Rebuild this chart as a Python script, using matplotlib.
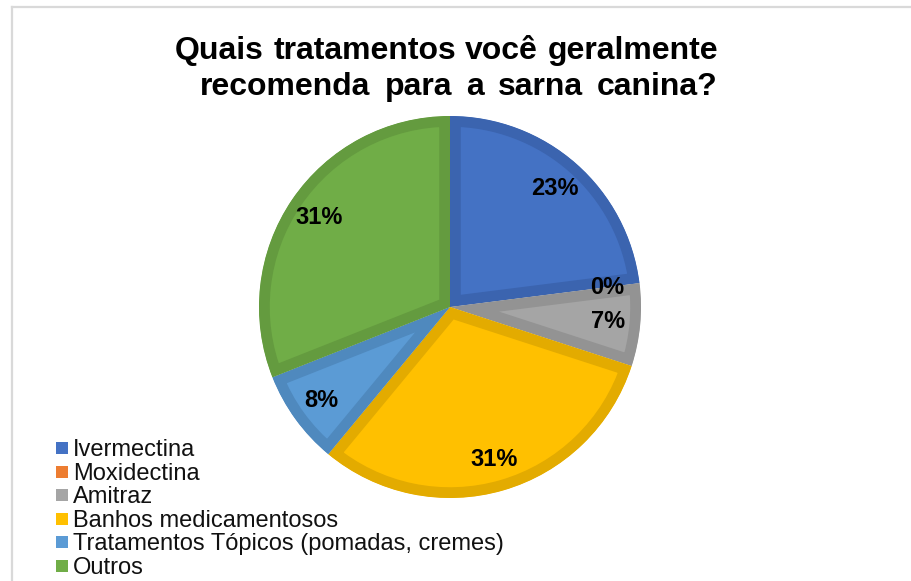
import matplotlib
matplotlib.use('Agg')
import matplotlib.pyplot as plt
from matplotlib.patches import Rectangle
from matplotlib.lines import Line2D

categories = ["Ivermectina", "Moxidectina", "Amitraz", "Banhos medicamentosos",
              "Tratamentos Tópicos (pomadas, cremes)", "Outros"]
values = [23, 0, 7, 31, 8, 31]
colors = ['#4472C4', '#ED7D31', '#A5A5A5', '#FFC000', '#5B9BD5', '#70AD47']
edge_colors = ['#3B64AF', '#D06E2B', '#939393', '#E3AB00', '#4F89BE', '#649B3F']
title_lines = ["Quais tratamentos você geralmente", "recomenda para a sarna canina?"]

plt.rcParams['font.family'] = ['Liberation Sans', 'DejaVu Sans']

W, H = 911, 581
fig = plt.figure(figsize=(W / 100, H / 100), dpi=100)

# pie
cx, cy, r = 450, 307, 191
ax = fig.add_axes([(cx - r) / W, (H - cy - r) / H, 2 * r / W, 2 * r / H])
wedges, texts, autotexts = ax.pie(
    values, colors=colors, startangle=90, counterclock=False, radius=1,
    autopct=lambda p: f'{p:.0f}%', pctdistance=0.83,
    textprops=dict(fontsize=17, fontweight='bold', color='black'))
for w, ec in zip(wedges, edge_colors):
    w.set_edgecolor(ec)
    w.set_linewidth(15.5)
    w.set_joinstyle('miter')
    w.set_clip_path(w)
    w.set_clip_on(True)
ax.set_xlim(-1, 1)
ax.set_ylim(-1, 1)
ax.set_aspect('equal')
ax.axis('off')

# frame lines
fig.add_artist(Line2D([12 / W, 12 / W], [0, 1 - 7 / H], transform=fig.transFigure,
                      color='#D9D9D9', lw=1.6))
fig.add_artist(Line2D([12 / W, 1], [1 - 7 / H, 1 - 7 / H], transform=fig.transFigure,
                      color='#D9D9D9', lw=1.6))

# legend
for i, (cat, col) in enumerate(zip(categories, colors)):
    y = 448 + i * 23.6
    fig.add_artist(Rectangle((56 / W, 1 - (y + 6) / H), 12 / W, 12 / H,
                             transform=fig.transFigure, facecolor=col, edgecolor='none'))
    fig.text(73 / W, 1 - (y + 8) / H, cat, fontsize=17, va='baseline', color='#111111')

# title, justified lines
renderer = fig.canvas.get_renderer()
line_specs = [(175, 718, 59), (200, 718, 95)]
for line, (left, right, base) in zip(title_lines, line_specs):
    words = line.split(' ')
    objs = [fig.text(0, 1 - base / H, wd, fontsize=23, fontweight='bold',
                     va='baseline', ha='left') for wd in words]
    widths = [o.get_window_extent(renderer).width for o in objs]
    gap = (right - left - sum(widths)) / (len(words) - 1)
    x = left
    for o, wdt in zip(objs, widths):
        o.set_x(x / W)
        x += wdt + gap

fig.savefig('out.png', dpi=100)
